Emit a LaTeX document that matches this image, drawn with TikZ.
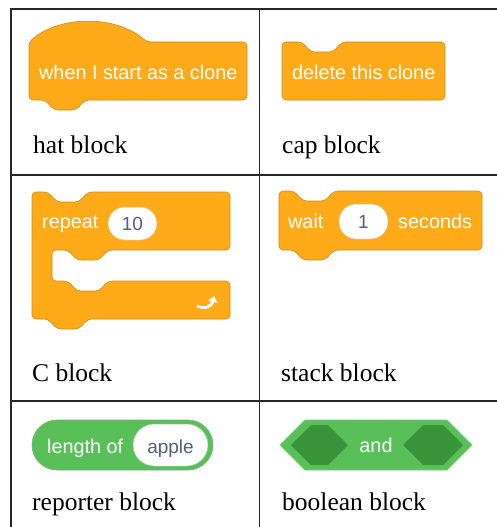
\documentclass[tikz,border=0pt]{standalone}
\usepackage{fontspec}
\setmainfont{Liberation Serif}
\newfontfamily\scratchfont{Liberation Sans}
\usetikzlibrary{arrows.meta}

\definecolor{ctrl}{HTML}{FFAB19}
\definecolor{ctrledge}{HTML}{CF8B17}
\definecolor{opgreen}{HTML}{59C059}
\definecolor{opdark}{HTML}{389438}
\definecolor{inputtext}{HTML}{575E75}

% notch cut into a top edge (drawn left to right), tab hanging below a bottom edge (right to left)
\newcommand{\notchat}[2]{-- (#1,#2) -- ++(9,10) -- ++(22,0) -- ++(9,-10)}
\newcommand{\tabat}[2]{-- ({#1+40},#2) -- ++(-9,10) -- ++(-22,0) -- ++(-9,-10)}

\tikzset{
  block/.style={fill=ctrl,draw=ctrledge,line width=0.6pt,rounded corners=4pt},
  label/.style={font=\scratchfont\fontsize{19.8}{22}\selectfont,text=white,inner sep=0pt},
  inputbox/.style={fill=white,draw=ctrledge!60,line width=0.5pt},
  inputlabel/.style={font=\scratchfont\fontsize{19}{22}\selectfont,text=inputtext,inner sep=0pt,anchor=base},
  caption/.style={font=\fontsize{25.5}{28}\selectfont,anchor=base west,inner sep=0pt},
  grid/.style={line width=1.6pt,black!85}
}

\begin{document}
\begin{tikzpicture}[x=1pt,y=-1pt]
  \useasboundingbox (0,0) rectangle (497,527);
  \fill[white] (0,0) rectangle (497,527);
  \clip (0,0) rectangle (497,527);

  % table rules
  \draw[grid] (11,540) -- (11,9) -- (510,9);
  \draw[grid] (11,175) -- (510,175);
  \draw[grid] (11,401) -- (510,401);
  \draw[grid] (259.5,9) -- (259.5,540);

  % hat block
  \draw[block] (29,42) .. controls (60,15) and (116,15) .. (147,42)
    -- (247,42) -- (247,100) \tabat{45}{100} -- (29,100) -- cycle;
  \node[label,anchor=base west] (hattext) at (39,79) {when I start as a clone};
  \node[caption] (hatcap) at (33,153) {hat block};

  % cap block
  \draw[block] (282,42) \notchat{302}{42} -- (445,42) -- (445,100)
    -- (282,100) -- cycle;
  \node[label,anchor=base west] (captext) at (292,79) {delete this clone};
  \node[caption] (capcap) at (282,153) {cap block};

  % C block
  \draw[block] (32,192) \notchat{48}{192} -- (230,192) -- (230,250)
    \tabat{68}{250} -- (52,250) -- (52,281) \notchat{68}{281}
    -- (230,281) -- (230,319) \tabat{48}{319} -- (32,319) -- cycle;
  \node[label,anchor=base west] (repeattext) at (42,228) {repeat};
  \draw[inputbox,rounded corners=16.5pt] (108,207) rectangle (157,240);
  \node[inputlabel] (repeatnum) at (132.5,230) {10};
  \draw[white,line width=2.8pt,-{Triangle[length=6pt,width=9pt]}]
    (197,306) .. controls (205,310) and (212,306) .. (214,296);
  \node[caption] (ccap) at (32,381) {C block};

  % stack block
  \draw[block] (279,191) \notchat{294}{191} -- (482,191) -- (482,250)
    \tabat{294}{250} -- (279,250) -- cycle;
  \node[label,anchor=base west] (waittext) at (288,228) {wait};
  \draw[inputbox,rounded corners=17pt] (339,204) rectangle (388,239);
  \node[inputlabel] (waitnum) at (363.5,228.5) {1};
  \node[label,anchor=base west] (secondstext) at (398,228) {seconds};
  \node[caption] (stackcap) at (281,381) {stack block};

  % reporter block
  \draw[fill=opgreen,draw=opdark!70,line width=0.6pt,rounded corners=25pt]
    (32,420) rectangle (213,470);
  \draw[fill=white,draw=opdark!50,line width=0.5pt,rounded corners=21pt]
    (133,424) rectangle (208,466);
  \node[label,anchor=base west] (lengthtext) at (47,453) {length of};
  \node[inputlabel] (applenum) at (170.5,453) {apple};
  \node[caption] (reportercap) at (32,510) {reporter block};

  % boolean block
  \draw[fill=opgreen,draw=opgreen!80!white,line width=0.8pt]
    (280,445) -- (305,420) -- (447,420) -- (472,445) -- (447,470) -- (305,470) -- cycle;
  \fill[opdark] (291,445) -- (311,425) -- (328,425) -- (348,445) -- (328,465) -- (311,465) -- cycle;
  \fill[opdark] (403,445) -- (423,425) -- (443,425) -- (463,445) -- (443,465) -- (423,465) -- cycle;
  \node[label,anchor=base] (andtext) at (376,452) {and};
  \node[caption] (booleancap) at (282,510) {boolean block};
\end{tikzpicture}
\end{document}
